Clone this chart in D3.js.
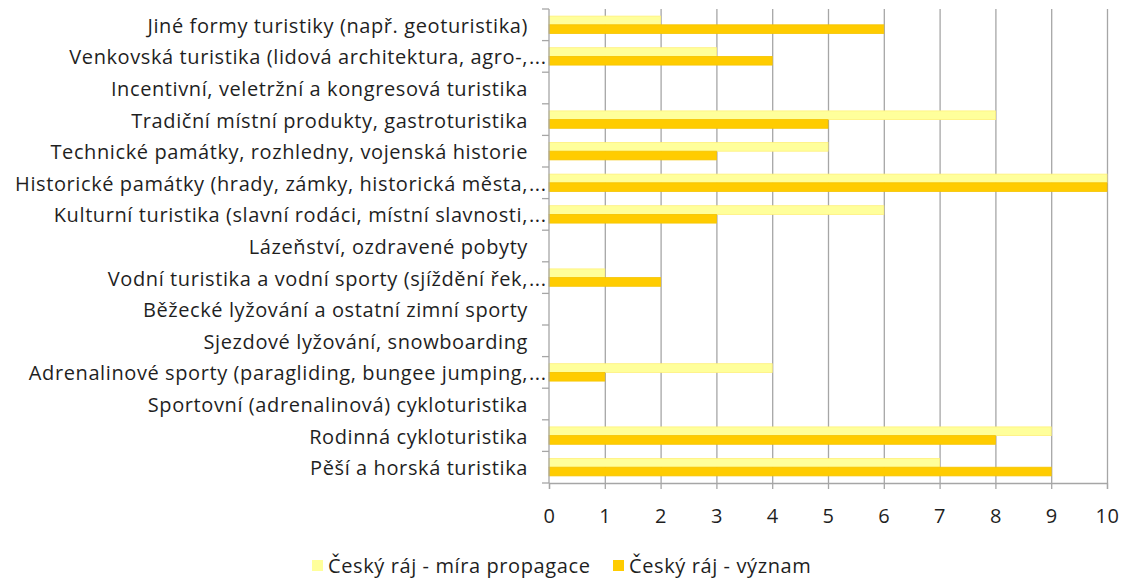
<!DOCTYPE html>
<html>
<head>
<meta charset="utf-8">
<script src="https://cdn.jsdelivr.net/npm/d3@7"></script>
<style>
  body { margin: 0; background: #fff; }
  text { font-family: "Open Sans", Lato, sans-serif; fill: #1f1f1f; letter-spacing: 0.6px; }
</style>
</head>
<body>
<div id="chart"></div>
<script>
// categories top to bottom, as they appear on the chart
const categories = [
  "Jiné formy turistiky (např. geoturistika)",
  "Venkovská turistika (lidová architektura, agro-,...",
  "Incentivní, veletržní a kongresová turistika",
  "Tradiční místní produkty, gastroturistika",
  "Technické památky, rozhledny, vojenská historie",
  "Historické památky (hrady, zámky, historická města,...",
  "Kulturní turistika (slavní rodáci, místní slavnosti,...",
  "Lázeňství, ozdravené pobyty",
  "Vodní turistika a vodní sporty (sjíždění řek,...",
  "Běžecké lyžování a ostatní zimní sporty",
  "Sjezdové lyžování, snowboarding",
  "Adrenalinové sporty (paragliding, bungee jumping,...",
  "Sportovní (adrenalinová) cykloturistika",
  "Rodinná cykloturistika",
  "Pěší a horská turistika"
];
const seriesNames = ["Český ráj - míra propagace", "Český ráj - význam"];
const propagace = [2, 3, 0, 8, 5, 10, 6, 0, 1, 0, 0, 4, 0, 9, 7];
const vyznam    = [6, 4, 0, 5, 3, 10, 3, 0, 2, 0, 0, 1, 0, 8, 9];
const xTicks = [0, 1, 2, 3, 4, 5, 6, 7, 8, 9, 10];

const W = 1123, H = 581;
const margin = {left: 549, right: 16, top: 9, bottom: 98};
const width = W - margin.left - margin.right;
const height = H - margin.top - margin.bottom;
const colors = ["#FFFF9B", "#FFCC00"];
const strokes = ["#FFF07A", "#F5C400"];
const fontSize = "20px";

const svg = d3.select("#chart").append("svg")
              .attr("width", W)
              .attr("height", H);
const g = svg.append("g")
             .attr("transform", "translate(" + margin.left + "," + margin.top + ")");

let xScale = d3.scaleLinear().domain([0, 10]).range([0, width]);
let yScale = d3.scaleBand().domain(categories).range([0, height]).paddingInner(0.45).paddingOuter(0.225);
let ySub = d3.scaleBand().domain([0, 1]).range([0, yScale.bandwidth()]);

// gridlines
g.append("g")
 .selectAll("line")
 .data(xTicks.slice(1))
 .enter()
 .append("line")
 .attr("x1", d => xScale(d) + 0.5)
 .attr("x2", d => xScale(d) + 0.5)
 .attr("y1", 0)
 .attr("y2", height)
 .style("stroke", "#A6A6A6")
 .style("stroke-width", 1.3);

// bars
const rows = categories.map((c, i) => ({c, vals: [propagace[i], vyznam[i]]}));
g.selectAll("groups")
 .data(rows)
 .enter()
 .append("g")
 .attr("transform", d => "translate(0," + yScale(d.c) + ")")
 .selectAll("rect")
 .data(d => d.vals.map((v, k) => ({v, k})).filter(o => o.v > 0))
 .enter()
 .append("rect")
 .attr("x", 0)
 .attr("y", d => ySub(d.k))
 .attr("width", d => xScale(d.v))
 .attr("height", ySub.bandwidth())
 .style("fill", d => colors[d.k])
 .style("stroke", d => strokes[d.k])
 .style("stroke-width", 0.8);

// x axis
const bandStep = height / categories.length;
g.append("g")
 .attr("transform", "translate(0," + height + ")")
 .call(d3.axisBottom(xScale).tickValues(xTicks).tickSize(6).tickPadding(20).tickFormat(d3.format("d")))
 .call(a => a.selectAll("path, line").style("stroke", "#A6A6A6").style("stroke-width", 1.3))
 .call(a => a.selectAll("text").style("font-size", fontSize).style("font-family", "'Open Sans', sans-serif").style("fill", "#1f1f1f"));

// y axis (ticks between categories)
const yAxis = g.append("g");
yAxis.append("line")
     .attr("x1", 0).attr("x2", 0).attr("y1", 0).attr("y2", height)
     .style("stroke", "#A6A6A6").style("stroke-width", 1.3);
yAxis.selectAll("tick")
     .data(d3.range(categories.length + 1))
     .enter()
     .append("line")
     .attr("x1", -7).attr("x2", 0)
     .attr("y1", i => i * bandStep)
     .attr("y2", i => i * bandStep)
     .style("stroke", "#A6A6A6").style("stroke-width", 1.3);

// category labels; ellipsis hangs past the label edge
const labels = g.selectAll("labels")
 .data(categories)
 .enter()
 .append("g")
 .attr("transform", d => "translate(-21," + (yScale(d) + yScale.bandwidth() / 2 + 1) + ")");
labels.append("text")
      .attr("text-anchor", "end")
      .attr("dy", "0.35em")
      .style("font-size", fontSize)
      .text(d => d.replace(/\.\.\.$/, ""));
labels.filter(d => d.endsWith("..."))
      .append("text")
      .attr("x", 1)
      .attr("dy", "0.35em")
      .style("font-size", fontSize)
      .text("...");

// legend
const legend = svg.append("g").attr("transform", "translate(312,566)");
const legX = [0, 301];
seriesNames.forEach((name, k) => {
  legend.append("rect")
        .attr("x", legX[k]).attr("y", -6)
        .attr("width", 11).attr("height", 11)
        .style("fill", colors[k]);
  legend.append("text")
        .attr("x", legX[k] + 16)
        .attr("dy", "0.35em")
        .style("font-size", fontSize)
        .text(name);
});
</script>
</body>
</html>
